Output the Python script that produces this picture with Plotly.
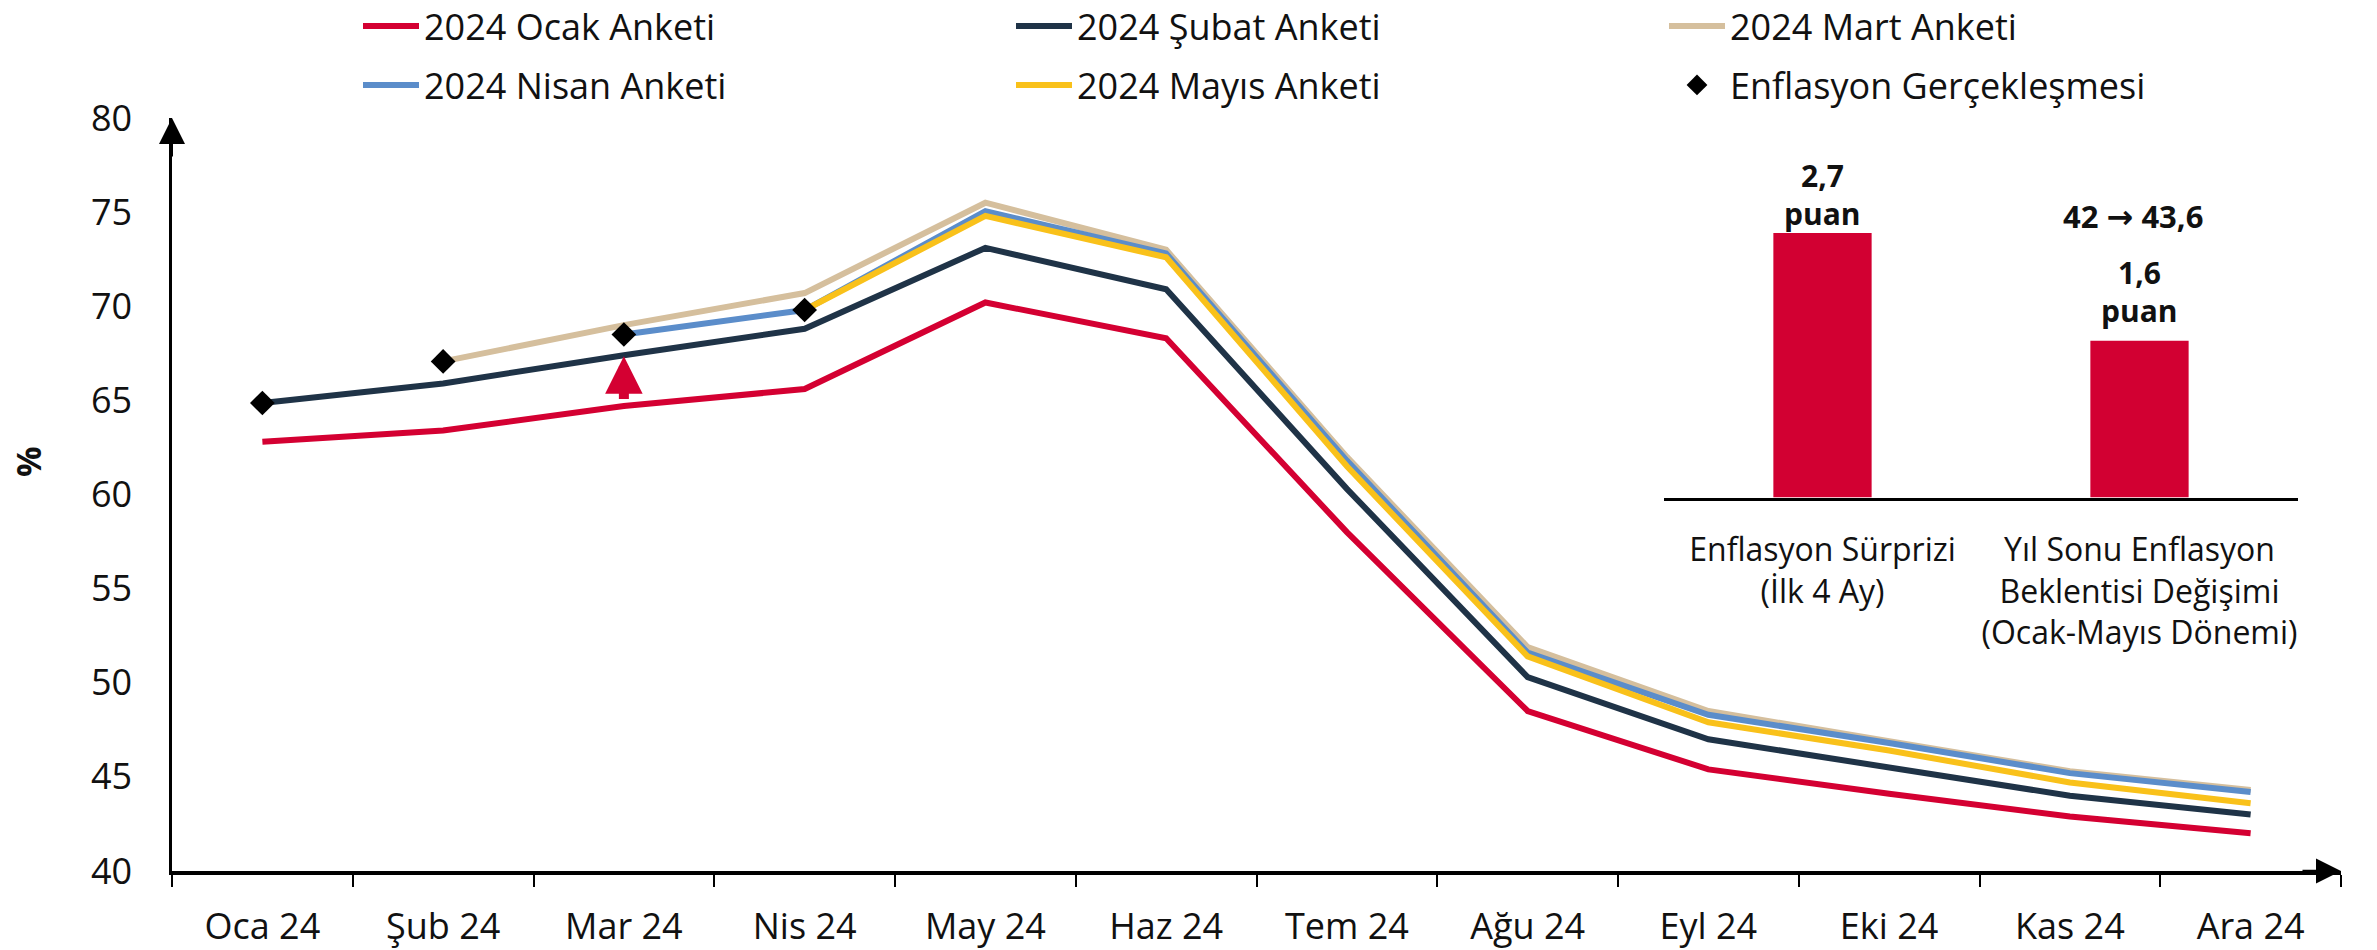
import plotly.graph_objects as go

# ---------------- data ----------------
months = ["Oca 24", "Şub 24", "Mar 24", "Nis 24", "May 24", "Haz 24",
          "Tem 24", "Ağu 24", "Eyl 24", "Eki 24", "Kas 24", "Ara 24"]

ocak_anketi = [62.8, 63.4, 64.7, 65.6, 70.2, 68.3, 58.0, 48.5, 45.4, 44.1, 42.9, 42.0]
subat_anketi = [64.86, 65.9, 67.4, 68.8, 73.1, 70.9, 60.3, 50.3, 47.0, 45.5, 44.0, 43.0]
mart_anketi = [None, 67.07, 69.0, 70.7, 75.5, 73.0, 62.0, 51.9, 48.5, 46.9, 45.3, 44.3]
nisan_anketi = [None, None, 68.5, 69.8, 75.05, 72.8, 61.8, 51.6, 48.3, 46.8, 45.2, 44.2]
mayis_anketi = [None, None, None, 69.8, 74.8, 72.6, 61.5, 51.4, 47.9, 46.4, 44.7, 43.6]
gerceklesme = [64.86, 67.07, 68.50, 69.80, None, None, None, None, None, None, None, None]

y_ticks = [40, 45, 50, 55, 60, 65, 70, 75, 80]

inset_categories = ["Enflasyon Sürprizi<br>(İlk 4 Ay)",
                    "Yıl Sonu Enflasyon<br>Beklentisi Değişimi<br>(Ocak-Mayıs Dönemi)"]
inset_values = [2.7, 1.6]

# ---------------- geometry / style ----------------
W, H = 2377, 950
ML, MT = 172, 118
MR = W - 2341
MB = H - 871
PW = W - ML - MR
PH = H - MT - MB
FONT = "Open Sans"

RED = "#D40032"
NAVY = "#1F3347"
BEIGE = "#D5BF9D"
BLUE = "#5B8DCA"
YELLOW = "#F9C11A"


def px_x(px):
    """window pixel x -> paper fraction"""
    return (px - ML) / PW


def px_y(py):
    """window pixel y -> paper fraction"""
    return (H - MB - py) / PH


def tr(v):
    s = f"{v:g}" if float(v).is_integer() else f"{v:.1f}"
    return s.replace(".", ",")


fig = go.Figure()

series = [
    ("2024 Ocak Anketi", ocak_anketi, RED, "legend"),
    ("2024 Şubat Anketi", subat_anketi, NAVY, "legend"),
    ("2024 Mart Anketi", mart_anketi, BEIGE, "legend"),
    ("2024 Nisan Anketi", nisan_anketi, BLUE, "legend2"),
    ("2024 Mayıs Anketi", mayis_anketi, YELLOW, "legend2"),
]
for name, vals, color, lg in series:
    fig.add_trace(go.Scatter(
        x=months, y=vals, name=name, mode="lines",
        line=dict(color=color, width=6), legend=lg,
        connectgaps=False, hoverinfo="skip"))

fig.add_trace(go.Scatter(
    x=months, y=gerceklesme, name="Enflasyon Gerçekleşmesi", mode="markers",
    marker=dict(symbol="diamond", size=19, color="black"), legend="legend2",
    hoverinfo="skip"))

fig.add_trace(go.Bar(
    x=inset_categories, y=inset_values, xaxis="x2", yaxis="y2",
    marker=dict(color="#D20032", line=dict(width=0)), width=0.31,
    showlegend=False, hoverinfo="skip"))

legend_common = dict(
    orientation="h", xanchor="left", yanchor="middle",
    entrywidth=582, itemwidth=56, bgcolor="rgba(0,0,0,0)",
    font=dict(family=FONT, size=36, color="#111"), borderwidth=0,
    traceorder="normal",
)

bold = dict(family=FONT, size=30, color="#111")
annotations = [
    # y-axis title
    dict(text="<b>%</b>", xref="paper", yref="paper", x=px_x(28), y=px_y(462),
         xanchor="center", yanchor="middle",
         showarrow=False, textangle=-90, font=dict(family=FONT, size=34, color="#111")),
    # y axis arrow head
    dict(text="", xref="paper", yref="paper", x=0, y=1, ax=0, ay=40,
         axref="pixel", ayref="pixel", showarrow=True, arrowhead=2,
         arrowsize=2.6, arrowwidth=2, arrowcolor="black"),
    # x axis arrow head
    dict(text="", xref="paper", yref="paper", x=1, y=0, ax=-40, ay=0,
         axref="pixel", ayref="pixel", showarrow=True, arrowhead=2,
         arrowsize=2.0, arrowwidth=2.5, arrowcolor="black"),
    # red arrow between Ocak and Şubat surveys
    dict(text="", xref="x", yref="y", x=months[2], y=subat_anketi[2] - 0.05,
         axref="x", ayref="y", ax=months[2], ay=ocak_anketi[2] + 0.3,
         showarrow=True, arrowhead=2, arrowwidth=10, arrowsize=0.75,
         arrowcolor=RED),
    # inset labels (bar 1)
    dict(text=f"<b>{tr(inset_values[0])}</b>", xref="x2", yref="y2",
         x=inset_categories[0], y=inset_values[0], yanchor="middle", yshift=57,
         showarrow=False, font=bold),
    dict(text="<b>puan</b>", xref="x2", yref="y2",
         x=inset_categories[0], y=inset_values[0], yanchor="middle", yshift=19,
         showarrow=False, font=bold),
    # inset labels (bar 2)
    dict(text=f"<b>{tr(inset_values[1])}</b>", xref="x2", yref="y2",
         x=inset_categories[1], y=inset_values[1], yanchor="middle", yshift=68,
         showarrow=False, font=bold),
    dict(text="<b>puan</b>", xref="x2", yref="y2",
         x=inset_categories[1], y=inset_values[1], yanchor="middle", yshift=30,
         showarrow=False, font=bold),
    dict(text=(f"<b>{tr(ocak_anketi[-1])} "
               "<span style=\"font-family:DejaVu Sans;font-size:32px\">→</span>"
               f" {tr(mayis_anketi[-1])}</b>"),
         xref="x2", yref="y2", x=inset_categories[1], y=inset_values[1],
         yanchor="middle", yshift=125, xshift=-7,
         showarrow=False, font=dict(family=FONT, size=31, color="#111")),
]

fig.update_layout(
    width=W, height=H,
    margin=dict(l=ML, r=MR, t=MT, b=MB, autoexpand=False),
    paper_bgcolor="white", plot_bgcolor="white",
    font=dict(family=FONT, color="#111"),
    showlegend=True,
    legend=dict(x=px_x(358), y=px_y(26), **legend_common),
    legend2=dict(x=px_x(358), y=px_y(85), **legend_common),
    xaxis=dict(
        type="category", categoryorder="array", categoryarray=months,
        range=[-0.5, len(months) - 0.5], domain=[0, 1], anchor="y",
        showline=True, linecolor="black", linewidth=3.5,
        ticks="outside", tickson="boundaries", ticklen=12, tickwidth=2,
        tickcolor="black", tickfont=dict(family=FONT, size=36, color="#111"),
        showgrid=False, zeroline=False, ticklabelstandoff=21,
    ),
    yaxis=dict(
        range=[40, 80], tickvals=y_ticks, domain=[0, 1], anchor="x",
        showline=True, linecolor="black", linewidth=2.5,
        ticks="", tickfont=dict(family=FONT, size=36, color="#111"),
        showgrid=False, zeroline=False, ticklabelstandoff=30,
    ),
    xaxis2=dict(
        type="category", domain=[px_x(1664), px_x(2298)], anchor="y2",
        range=[-0.5, 1.5], showline=True, linecolor="black", linewidth=3,
        ticks="", tickfont=dict(family=FONT, size=32, color="#111"),
        showgrid=False, zeroline=False, ticklabelstandoff=22,
    ),
    yaxis2=dict(
        domain=[px_y(497.5), px_y(497.5 - 3 * 98)], anchor="x2", range=[0, 3],
        visible=False, showgrid=False, zeroline=False,
    ),
    annotations=annotations,
)

fig.write_html("out.html",
               config={"displayModeBar": False, "staticPlot": False},
               post_script="document.body.style.margin='0px';"
                           "document.body.style.overflow='hidden';")
